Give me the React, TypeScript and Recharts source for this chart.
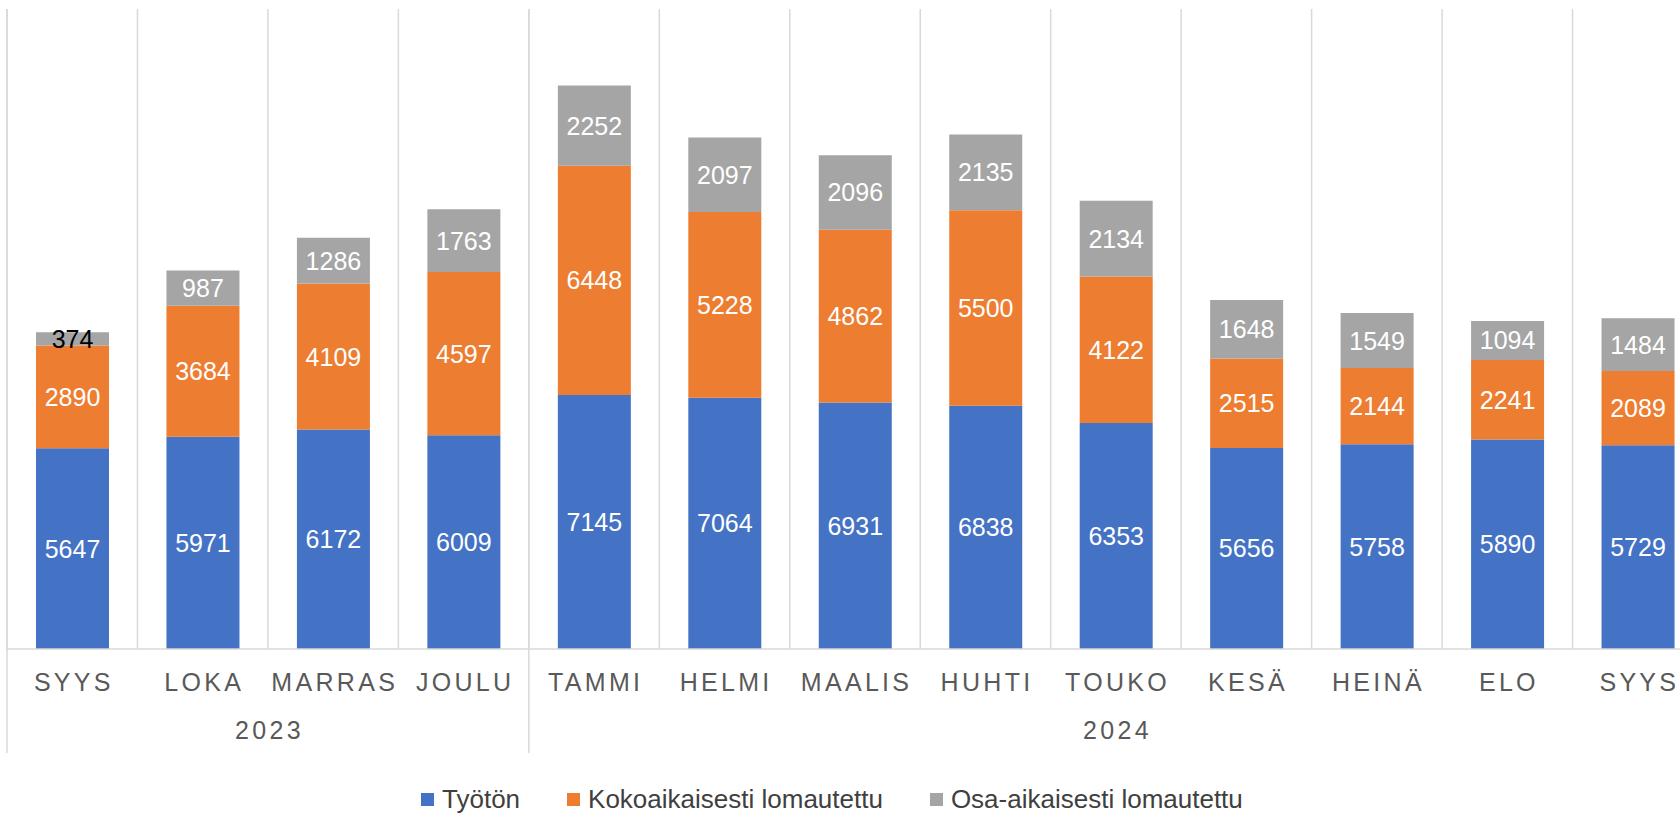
import React from "react";
import { BarChart, Bar, XAxis, YAxis, CartesianGrid, LabelList } from "recharts";

const months = ["SYYS", "LOKA", "MARRAS", "JOULU", "TAMMI", "HELMI", "MAALIS", "HUHTI", "TOUKO", "KESÄ", "HEINÄ", "ELO", "SYYS"];
const years = ["2023", "2023", "2023", "2023", "2024", "2024", "2024", "2024", "2024", "2024", "2024", "2024", "2024"];

const tyoton = [5647, 5971, 6172, 6009, 7145, 7064, 6931, 6838, 6353, 5656, 5758, 5890, 5729];
const kokoaikaisesti = [2890, 3684, 4109, 4597, 6448, 5228, 4862, 5500, 4122, 2515, 2144, 2241, 2089];
const osaaikaisesti = [374, 987, 1286, 1763, 2252, 2097, 2096, 2135, 2134, 1648, 1549, 1094, 1484];

const series = [
  { key: "tyoton", name: "Työtön", color: "#4472C4" },
  { key: "koko", name: "Kokoaikaisesti lomautettu", color: "#ED7D31" },
  { key: "osa", name: "Osa-aikaisesti lomautettu", color: "#A5A5A5" },
];

const data = months.map((m, i) => ({
  month: m,
  year: years[i],
  tyoton: tyoton[i],
  koko: kokoaikaisesti[i],
  osa: osaaikaisesti[i],
}));

// layout
const W = 1710;
const H = 815;
const M = { top: 9, right: 7, left: 7, bottom: 0 };
const AXIS_H = 166;
const PLOT_W = W - M.left - M.right;
const BAND = PLOT_W / months.length;
const BASE = H - M.bottom - AXIS_H;
const FONT = "'Liberation Sans', Arial, sans-serif";
const GRID = "#d9d9d9";

// year groups from the years list
const groups: { year: string; start: number; count: number }[] = [];
years.forEach((y, i) => {
  const g = groups[groups.length - 1];
  if (g && g.year === y) g.count++;
  else groups.push({ year: y, start: i, count: 1 });
});

function MonthTick(props: any) {
  const { x, index, payload } = props;
  const g = groups.find((gr) => gr.start === index);
  const left = x - BAND / 2;
  return (
    <g>
      <text
        x={x + 1.6}
        y={BASE + 42}
        textAnchor="middle"
        fontFamily={FONT}
        fontSize={25}
        letterSpacing={3.3}
        fill="#595959"
      >
        {payload.value}
      </text>
      {g && (
        <>
          <line x1={left} x2={left} y1={M.top} y2={BASE + 104} stroke={GRID} strokeWidth={1.5} />
          <text
            x={left + (g.count * BAND) / 2 + 1.6}
            y={BASE + 90}
            textAnchor="middle"
            fontFamily={FONT}
            fontSize={25}
            letterSpacing={3.3}
            fill="#595959"
          >
            {g.year}
          </text>
        </>
      )}
    </g>
  );
}

function SegLabel(props: any) {
  const { x, y, width, height, value } = props;
  const dark = height < 25;
  return (
    <text
      x={x + width / 2}
      y={y + height / 2 + 9}
      textAnchor="middle"
      fontFamily={FONT}
      fontSize={25}
      fill={dark ? "#000000" : "#ffffff"}
    >
      {value}
    </text>
  );
}

export default function App() {
  return (
    <div
      style={{
        position: "absolute",
        left: 0,
        top: 0,
        width: 1680,
        height: 815,
        overflow: "hidden",
        background: "#ffffff",
      }}
    >
      <BarChart width={W} height={H} data={data} margin={M}>
        <CartesianGrid
          horizontal={false}
          stroke={GRID}
          strokeWidth={1.5}
          verticalCoordinatesGenerator={({ offset }: any) =>
            months.map((_, i) => offset.left + (i * offset.width) / months.length)
          }
        />
        <XAxis
          dataKey="month"
          height={AXIS_H}
          tickLine={false}
          axisLine={{ stroke: GRID, strokeWidth: 1.5 }}
          interval={0}
          tick={<MonthTick />}
        />
        <YAxis hide domain={[0, 18000]} />
        {series.map((s) => (
          <Bar key={s.key} dataKey={s.key} name={s.name} stackId="a" fill={s.color} barSize={73} isAnimationActive={false}>
            <LabelList dataKey={s.key} content={<SegLabel />} />
          </Bar>
        ))}
      </BarChart>
      <div
        style={{
          position: "absolute",
          left: 421,
          top: 786,
          display: "flex",
          alignItems: "center",
          fontFamily: FONT,
          fontSize: 26,
          lineHeight: "26px",
          color: "#404040",
          whiteSpace: "nowrap",
        }}
      >
        {series.map((s) => (
          <div key={s.key} style={{ display: "flex", alignItems: "center", marginRight: 47 }}>
            <span style={{ width: 13, height: 13, background: s.color, marginRight: 8, display: "inline-block" }} />
            <span>{s.name}</span>
          </div>
        ))}
      </div>
    </div>
  );
}
